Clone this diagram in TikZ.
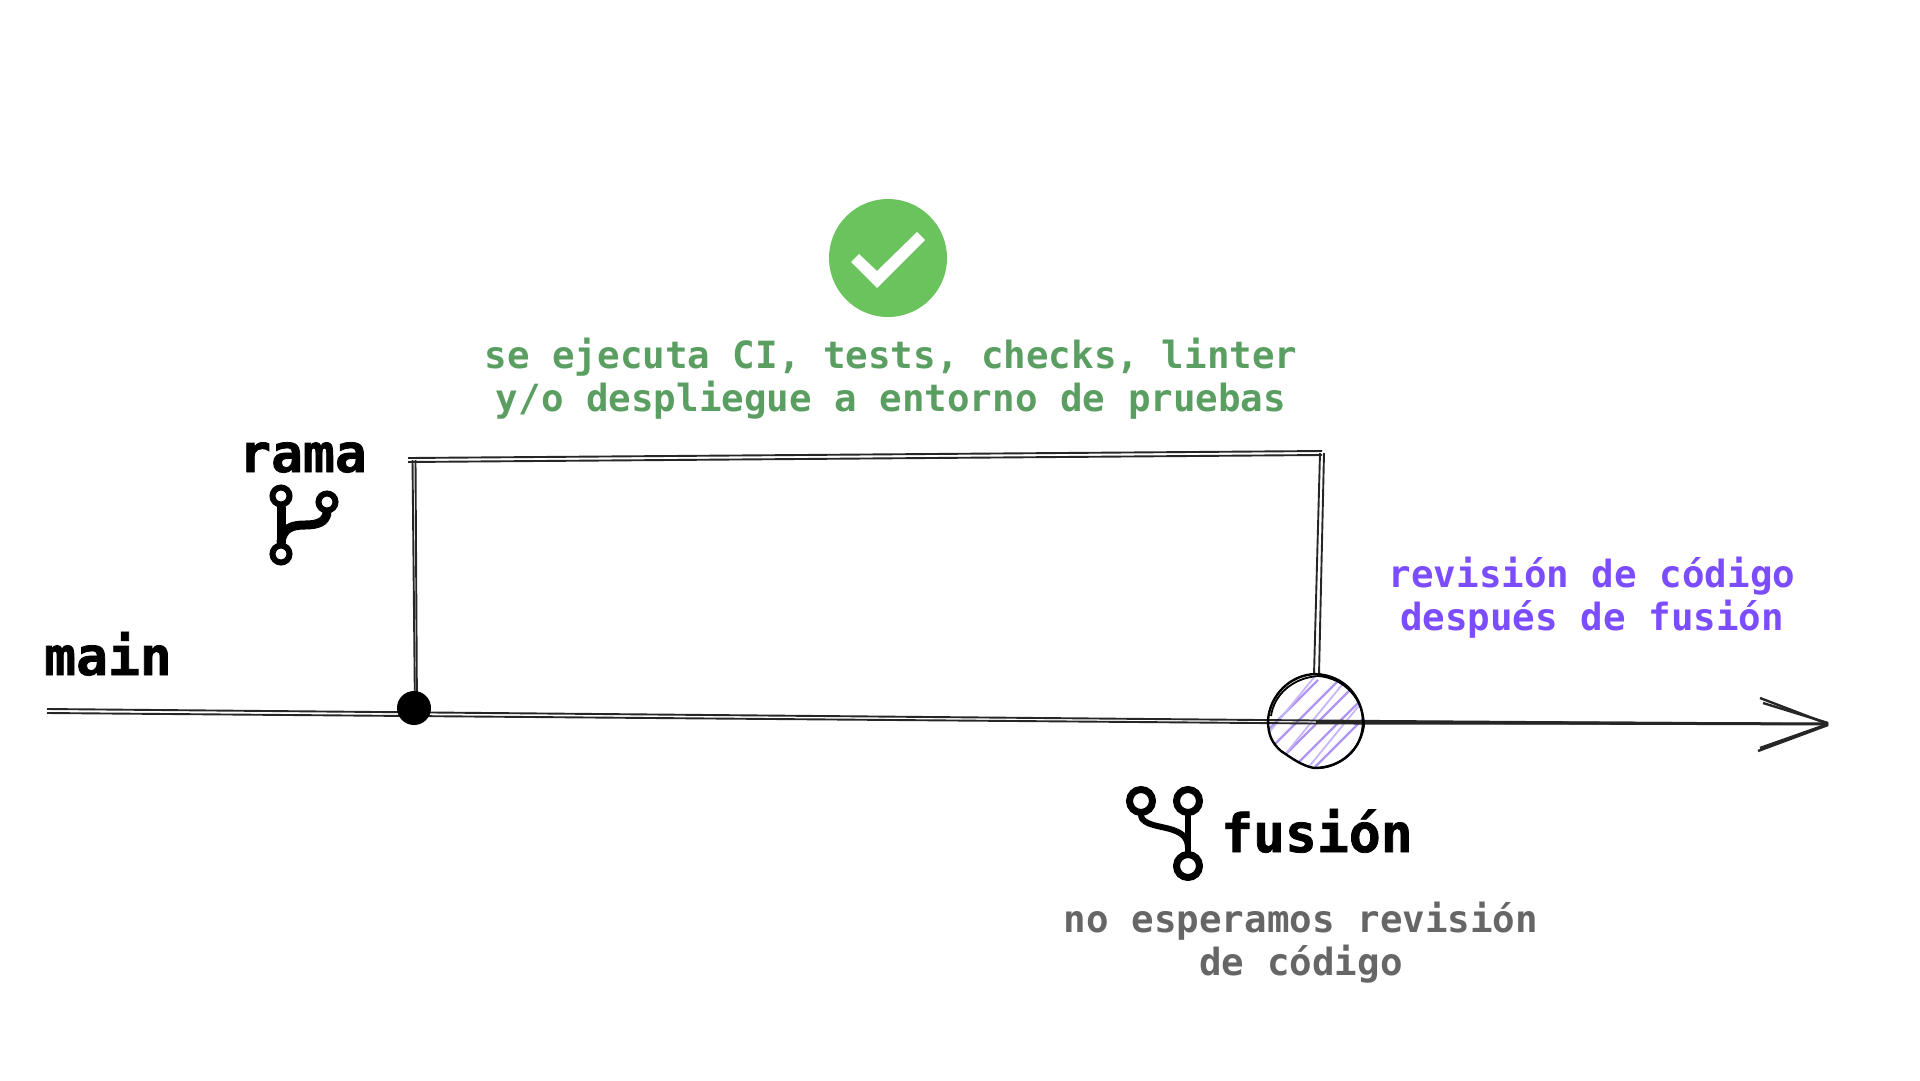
\documentclass[tikz,border=0pt]{standalone}
\usepackage{xcolor}
\usepackage{fontspec}
\setmonofont{DejaVu Sans Mono}
\newfontfamily\labelfont[FakeBold=1.4]{DejaVu Sans Mono Bold}
\usetikzlibrary{arrows, positioning}
\definecolor{checkgreen}{RGB}{107,195,93}
\definecolor{cigreen}{RGB}{90,158,98}
\definecolor{reviewpurple}{RGB}{124,77,255}
\definecolor{hatchpurple}{RGB}{175,150,245}
\definecolor{notegray}{RGB}{102,102,102}
\tikzset{
    sketch/.style={draw=black!85, line width=1.9pt},
    label/.style={font=\labelfont\fontsize{53}{60}\selectfont, inner sep=0pt},
    note/.style={font=\ttfamily\bfseries\fontsize{37.5}{43}\selectfont, align=center, inner sep=0pt},
    icon/.style={draw=black, line cap=round}
}

\begin{document}
\begin{tikzpicture}[x=1pt, y=-1pt]
    \useasboundingbox (0,0) rectangle (1920,1080);

    % points of the lines
    \coordinate (mainstart) at (47,711);
    \coordinate (mainend) at (1828,724);
    \coordinate (forkup) at (414,460);
    \coordinate (forkfoot) at (416,713);
    \coordinate (mergeup) at (1322,453);
    \coordinate (barbup) at (1760,698);
    \coordinate (barbdown) at (1760,748);
    \node[circle, inner sep=0pt, minimum size=94pt] (merge) at (1316,722) {};

    % hatching of the merge circle
    \begin{scope}
        \clip (1268,720) .. controls (1270,695) and (1290,675) .. (1315,674) .. controls (1345,675) and (1363,698) .. (1363,722) .. controls (1363,750) and (1340,768) .. (1314,768) .. controls (1302,766) and (1290,757) .. (1281,751) .. controls (1272,743) and (1268,735) .. (1268,720);
        \foreach \i in {0,21,...,190}
            \draw[hatchpurple, line width=2.2pt] (1208+\i,790) -- (1318+\i,680);
        \foreach \i in {6,40,...,170}
            \draw[hatchpurple!70, line width=1.8pt] (1220+\i,785) -- (1310+\i,675);
    \end{scope}

    % main line
    \draw[sketch] ([yshift=-2pt]mainstart) -- ([yshift=-1.5pt]merge.center) -- (mainend);
    \draw[sketch] ([yshift=2pt]mainstart) -- ([yshift=1.5pt]merge.center) -- (mainend);
    \draw[sketch, line width=3pt] (merge.center) -- (mainend);
    \draw[sketch, line width=2.4pt] (barbup) -- (mainend);
    \draw[sketch, line width=2.4pt] ([xshift=3pt,yshift=-5pt]barbup) -- ([yshift=1pt]mainend);
    \draw[sketch, line width=2.4pt] (barbdown) -- (mainend);
    \draw[sketch, line width=2.4pt] ([xshift=-2pt,yshift=-3pt]barbdown) -- ([yshift=-1pt]mainend);

    % branch line
    \draw[sketch] ([xshift=-1.5pt]forkup) -- ([xshift=-1pt]forkfoot);
    \draw[sketch] ([xshift=1.5pt]forkup) -- ([xshift=1pt]forkfoot);
    \draw[sketch] ([xshift=-6pt,yshift=-2pt]forkup) -- ([yshift=-2pt]mergeup);
    \draw[sketch] ([xshift=-6pt,yshift=2pt]forkup) -- ([yshift=2pt]mergeup);
    \draw[sketch] ([xshift=-2pt]mergeup) -- ([xshift=-2pt]merge.north);
    \draw[sketch] ([xshift=2pt]mergeup) -- ([xshift=3pt]merge.north);

    % fork dot
    \node[circle, inner sep=0pt, minimum size=34pt, fill=black] (forkdot) at (414,708) {};

    % merge circle
    \draw[black, line width=2.4pt] (1268,720) .. controls (1270,695) and (1290,675) .. (1315,674) .. controls (1345,675) and (1363,698) .. (1363,722) .. controls (1363,750) and (1340,768) .. (1314,768) .. controls (1302,766) and (1290,757) .. (1281,751) .. controls (1272,743) and (1268,735) .. (1268,720);
    \draw[black, line width=1.8pt] (1271,716) .. controls (1274,695) and (1292,678) .. (1318,676) .. controls (1345,678) and (1364,700) .. (1364,726) .. controls (1360,752) and (1338,767) .. (1320,768);

    % check badge
    \node[circle, fill=checkgreen, inner sep=0pt, minimum size=118pt] (badge) at (888,258) {};
    \fill[white] (851,262) -- (859,254) -- (877,271) -- (917,232) -- (925,240) -- (877,288) -- cycle;

    % labels
    \node[label, anchor=base] (mainlabel) at (108,675) {main};
    \node[label, anchor=base] (ramalabel) at (303,472) {rama};
    \node[label, anchor=base west] (fusionlabel) at (1221,852) {fusión};
    \node[note, text=cigreen, below=21pt of badge, xshift=3pt] (cinote) {se ejecuta CI, tests, checks, linter\\y/o despliegue a entorno de pruebas};
    \node[note, text=reviewpurple] (reviewnote) at (1592,598) {revisión de código\\después de fusión};
    \node[note, text=notegray] (waitnote) at (1301,943) {no esperamos revisión\\de código};

    % branch icon
    \node[icon, circle, line width=6pt, inner sep=0pt, minimum size=17pt] (branchtop) at (281,496) {};
    \node[icon, circle, line width=6pt, inner sep=0pt, minimum size=17pt] (branchright) at (327,502) {};
    \node[icon, circle, line width=6pt, inner sep=0pt, minimum size=17pt] (branchbottom) at (281,554) {};
    \draw[icon, line width=9pt] (branchtop) -- (branchbottom);
    \draw[icon, line width=9pt] (branchright.south) .. controls (325,522) and (318,525) .. (305,525) .. controls (292,525) and (283,528) .. (281,542);

    % merge icon
    \node[icon, circle, line width=7pt, inner sep=0pt, minimum size=23pt] (mergeleft) at (1141,801) {};
    \node[icon, circle, line width=7pt, inner sep=0pt, minimum size=23pt] (mergeright) at (1188,801) {};
    \node[icon, circle, line width=7pt, inner sep=0pt, minimum size=23pt] (mergebottom) at (1188,866) {};
    \draw[icon, line width=6pt] (mergeright) -- (mergebottom);
    \draw[icon, line width=6pt] (mergeleft.south) .. controls (1143,825) and (1160,826) .. (1170,829) .. controls (1180,832) and (1188,836) .. (1188,848);
\end{tikzpicture}
\end{document}
